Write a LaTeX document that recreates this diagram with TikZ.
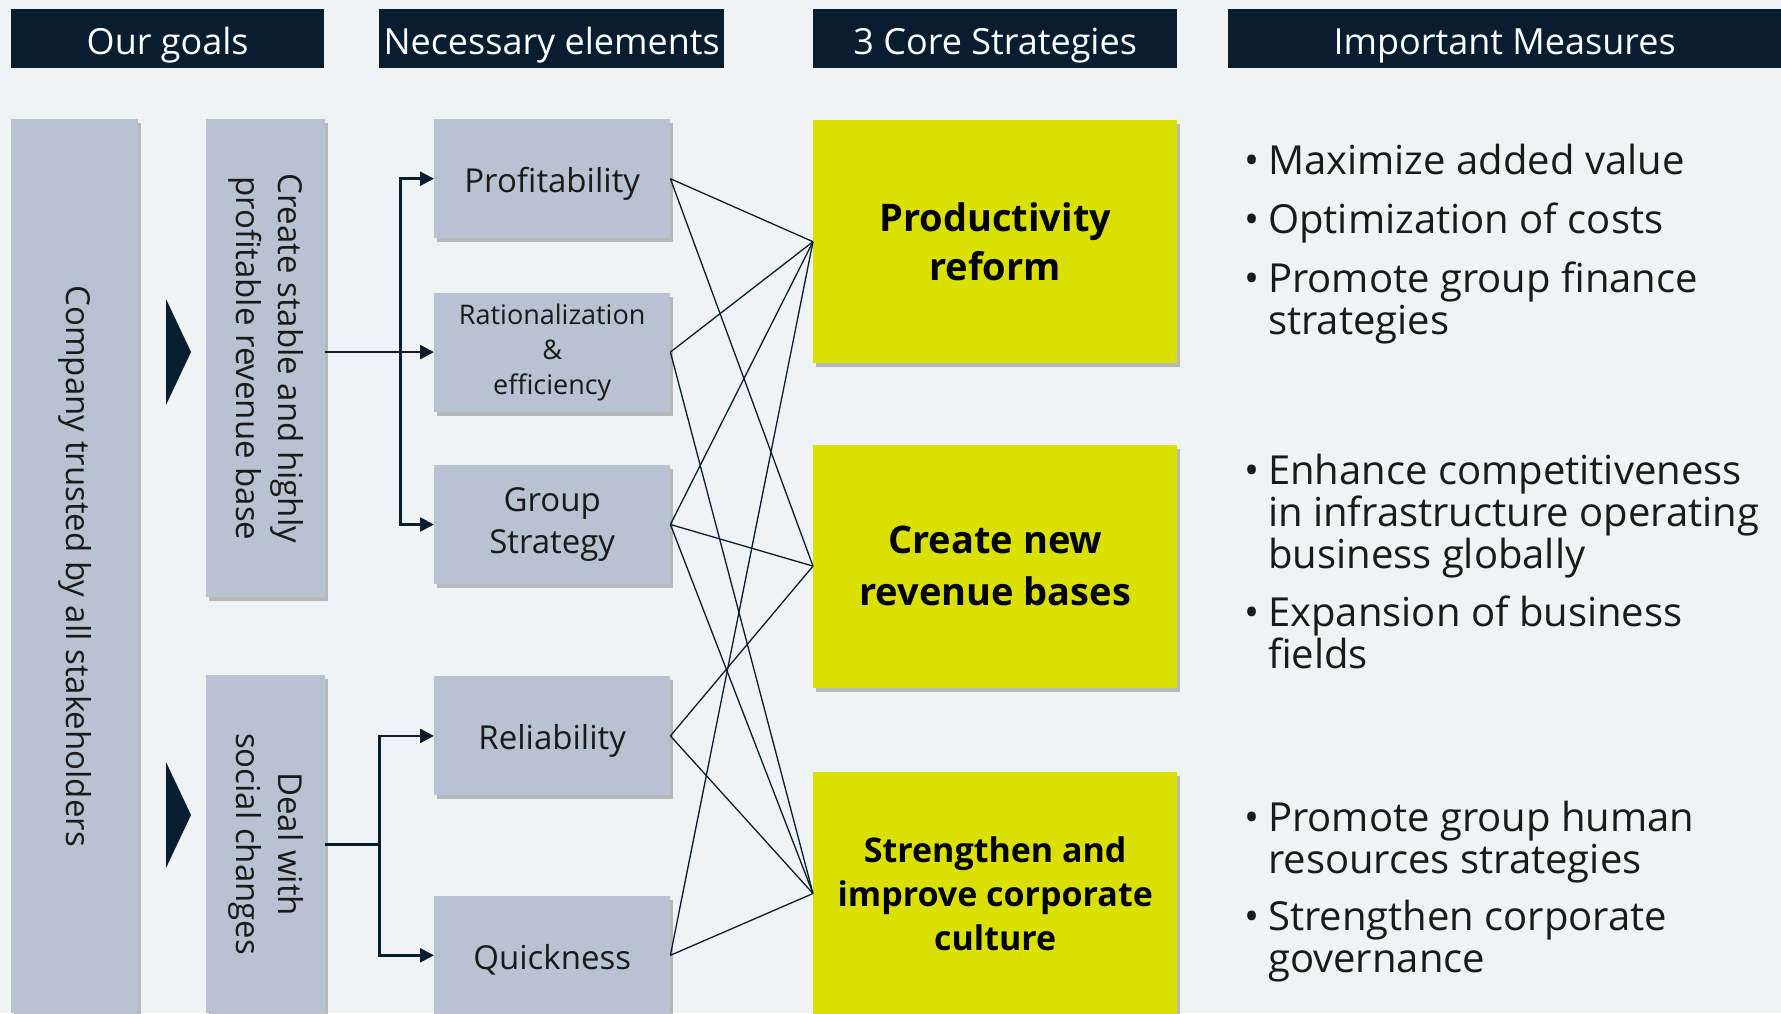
\documentclass[tikz,border=0pt]{standalone}
\usepackage{fontspec}
\setmainfont{Open Sans}
\usepackage{graphicx}
\usetikzlibrary{arrows.meta,positioning,shadows}
\definecolor{pagebg}{RGB}{239,243,244}
\definecolor{navy}{RGB}{8,30,48}
\definecolor{steel}{RGB}{183,195,210}
\definecolor{lime}{RGB}{218,224,0}
\definecolor{inkgray}{RGB}{26,26,26}
\newcommand{\fs}[2]{\fontsize{#1}{#2}\selectfont}
\newcommand{\bul}{\llap{\textbullet\hspace{9pt}}}

\begin{document}
\begin{tikzpicture}[
  x=1pt, y=-1pt,
  boxshadow/.style={drop shadow={shadow xshift=3pt, shadow yshift=-4pt, opacity=0.35, fill=black!70}},
  head/.style={rectangle, fill=navy, text=white, font=\fs{36}{42}, minimum height=59pt, text height=32pt, text depth=0pt, inner sep=0pt, anchor=north west},
  tall/.style={rectangle, fill=steel, boxshadow, text=inkgray, font=\fs{33}{42}, inner sep=0pt, anchor=north west},
  elem/.style={rectangle, fill=steel, boxshadow, text=inkgray, font=\fs{33}{42}, align=center, minimum width=236pt, minimum height=119pt, inner sep=0pt},
  oneline/.style={text height=28pt, text depth=0pt},
  core/.style={rectangle, fill=lime, boxshadow, text=black, font=\bfseries\fs{38}{49}, align=center, minimum width=364pt, minimum height=243pt, inner sep=0pt},
  meas/.style={font=\fs{40}{42}, text=inkgray, align=left, anchor=base west, inner sep=0pt},
  arr/.style={-{Triangle[length=14pt,width=14pt]}, line width=2.6pt, draw=navy},
  link/.style={line width=1.3pt, draw=navy}
]
\useasboundingbox (0,0) rectangle (1781,1013);
\fill[pagebg] (0,0) rectangle (1781,1013);

% column headings
\node[head, minimum width=313pt] (hgoal) at (11,9) {Our goals};
\node[head, minimum width=345pt] (helem) at (379,9) {Necessary elements};
\node[head, minimum width=364pt] (hcore) at (813,9) {3 Core Strategies};
\node[head, minimum width=553pt] (hmeas) at (1228,9) {Important Measures};

% goals
\node[tall, minimum width=127pt, minimum height=894pt] (trust) at (11,119) {\rotatebox{-90}{Company trusted by all stakeholders}};
\node[tall, minimum width=119pt, minimum height=478pt] (base) at (206,119) {\rotatebox{-90}{\begin{tabular}{@{}c@{}}Create stable and highly\\profitable revenue base\end{tabular}}};
\node[tall, minimum width=119pt, minimum height=338pt] (deal) at (206,675) {\rotatebox{-90}{\begin{tabular}{@{}c@{}}Deal with\\social changes\end{tabular}}};
\fill[navy] (166,299) -- (191,352) -- (166,405) -- cycle;
\fill[navy] (166,762) -- (191,815) -- (166,868) -- cycle;

% necessary elements
\node[elem, oneline, anchor=north west] (prof) at (434,119) {Profitability};
\node[elem, below=54pt of prof, font=\fs{27}{35}] (rat) {Rationalization\\\&\\efficiency};
\node[elem, below=53pt of rat] (grp) {Group\\Strategy};
\node[elem, oneline, below=92pt of grp] (rel) {Reliability};
\node[elem, oneline, below=100pt of rel] (qck) {Quickness};

% core strategies
\node[core, anchor=north west] (prod) at (813,120) {Productivity\\reform};
\node[core, below=81pt of prod, font=\bfseries\fs{38}{52}] (crn) {Create new\\revenue bases};
\node[core, below=84pt of crn, font=\bfseries\fs{34}{44}] (str) {Strengthen and\\improve corporate\\culture};

% branching arrows
\coordinate (s1) at ([xshift=75pt]base.east |- rat.west);
\coordinate (s2) at ([xshift=54pt]deal.east);
\draw[arr] (base.east |- rat.west) -- (rat.west);
\draw[arr] (s1) |- (prof.west);
\draw[arr] (s1) |- (grp.west);
\draw[link, line width=2.6pt] (deal.east) -- (s2);
\draw[arr] (s2) |- (rel.west);
\draw[arr] (s2) |- (qck.west);

% element -> strategy links
\foreach \a/\b in {prof/prod, prof/crn, rat/prod, rat/str, grp/prod, grp/crn, grp/str, rel/crn, rel/str, qck/prod, qck/str}
  \draw[link] (\a.east) -- (\b.west);

% measures (base anchor sits on the last line)
\node[meas] (m1) at (1268,334) {\bul Maximize added value\\[17pt]\bul Optimization of costs\\[17pt]\bul Promote group finance\\strategies};
\node[meas] (m2) at (1268,668) {\bul Enhance competitiveness\\in infrastructure operating\\business globally\\[16pt]\bul Expansion of business\\fields};
\node[meas] (m3) at (1268,972) {\bul Promote group human\\resources strategies\\[15pt]\bul Strengthen corporate\\governance};
\end{tikzpicture}
\end{document}
